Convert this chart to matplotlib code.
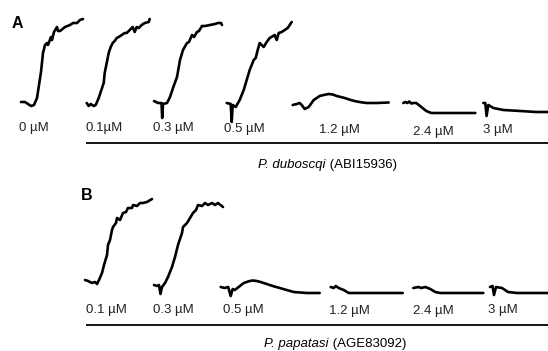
import matplotlib
matplotlib.use('Agg')
import matplotlib.pyplot as plt

plt.rcParams['font.family'] = ['Liberation Sans', 'DejaVu Sans']

# figure size in pixels (dpi 100)
W, H = 548, 351

# ---- data: time (s) and response (dF, a.u.) of each recording ----
# P. duboscqi (ABI15936)
dub_labels = ['0 \u00b5M', '0.1\u00b5M', '0.3 \u00b5M', '0.5 \u00b5M', '1.2 \u00b5M', '2.4 \u00b5M', '3 \u00b5M']

dub_t_0 = [0, 4, 7, 10, 13, 16, 18, 20, 22, 24, 26, 27, 30, 31, 33, 36, 37, 39, 44, 49, 52, 56, 59, 62]
dub_f_0 = [1, 1, -1, -3, -2, 5, 18, 31, 50, 58, 60, 58, 66, 63, 71, 76, 72, 72, 76, 78, 80, 80, 83, 84]

dub_t_01 = [0, 2, 4, 7, 9, 12, 14, 17, 18, 20, 22, 24, 26, 28, 30, 32, 35, 38, 40, 43, 46, 48, 50, 52, 55, 58, 62, 63]
dub_f_01 = [0, -3, -1, -3, -2, 5, 11, 20, 30, 40, 50, 56, 60, 62, 65, 66, 68, 70, 70, 73, 76, 71, 76, 75, 78, 80, 81, 84]

dub_t_03 = [0, 4, 7.5, 8.2, 9, 13, 16, 19, 23, 26, 29, 33, 35, 38, 40, 43, 45, 48, 51, 56, 61, 64, 67, 68]
dub_f_03 = [2, 0, 0, -15, -1, 0, 6, 15, 26, 43, 53, 60, 61, 68, 66, 71, 72, 77, 77, 78, 79, 80, 80, 78]

dub_t_05 = [0, 4, 5, 6, 9, 13, 17, 20, 23, 27, 29, 31, 33, 37, 40, 43, 48, 50, 52, 55, 58, 61, 63, 65]
dub_f_05 = [0, -1, -19, -2, -4, 3, 13, 23, 33, 43, 45, 53, 60, 56, 61, 65, 68, 63, 70, 71, 73, 75, 78, 81]

dub_t_12 = [0, 4, 7, 9, 12, 16, 21, 24, 27, 31, 36, 40, 44, 48, 52, 58, 64, 70, 74, 84, 96]
dub_f_12 = [-2, -1, 0, -2, -6, -4, 3, 5, 7, 8, 9, 8.5, 7, 6, 5, 3, 1.5, 0.5, 0, 0, 0.5]

dub_t_24 = [0, 2, 4, 6, 8, 10, 13, 18, 23, 28, 40, 60, 72]
dub_f_24 = [0, 1, 0, 1.5, -0.5, 0, 0, -4, -8, -10, -10, -10, -10]

dub_t_3 = [0, 2, 3.3, 5, 10, 20, 37, 53, 65]
dub_f_3 = [0, 0, -13, -2, -5, -7, -8, -9, -9]

# P. papatasi (AGE83092)
pap_labels = ['0.1 \u00b5M', '0.3 \u00b5M', '0.5 \u00b5M', '1.2 \u00b5M', '2.4 \u00b5M', '3 \u00b5M']

pap_t_01 = [0, 3, 7, 10, 12, 14, 17, 19, 22, 23, 25, 27, 28, 31, 32, 35, 38, 41, 43, 47, 48, 52, 55, 58, 62, 67]
pap_f_01 = [2, 1, -1, 0, -2, 2, 9, 17, 27, 37, 42, 52, 55, 59, 64, 62, 69, 70, 74, 74, 77, 76, 79, 79, 80, 83]

pap_t_03 = [0, 3, 5, 6.5, 8, 11, 14, 18, 21, 24, 28, 29, 33, 36, 39, 42, 44, 48, 51, 54, 58, 61, 64, 69]
pap_f_03 = [-3, -4, -3, -12, -5, -1, 5, 15, 25, 37, 49, 55, 59, 64, 69, 72, 77, 76, 79, 77, 79, 77, 79, 75]

pap_t_05 = [0, 4, 7.5, 10, 12, 14, 18, 23, 29, 32, 36, 40, 46, 52, 59, 66, 73, 86, 99]
pap_f_05 = [-5, -6, -5, -14, -7, -8, -5, -1, 1, 1.5, 1, 0, -2, -4, -6, -8, -10, -11, -11]

pap_t_12 = [0, 3, 5, 8, 13, 18, 26, 43, 61, 72]
pap_f_12 = [-5, -6, -4, -6, -8, -11, -11, -11, -11, -11]

pap_t_24 = [0, 5, 8, 12, 17, 22, 27, 47, 70]
pap_f_24 = [-6, -5, -6, -5, -7, -10, -11, -11, -11]

pap_t_3 = [0, 2.5, 4, 6, 12, 18, 27, 58]
pap_f_3 = [-5, -4, -13, -5, -6, -10, -11, -11]

dub_name, dub_acc = 'P. duboscqi', ' (ABI15936)'
pap_name, pap_acc = 'P. papatasi', ' (AGE83092)'

# ---- layout (pixels from top-left) ----
YLIM = (-25, 90)
dub_x0 = [21, 86.7, 154, 226.7, 292.7, 403.3, 483.3]
dub_base = 103
dub_lab_x = [19, 86, 153, 224, 319, 413, 483]
dub_lab_y = [131, 131.5, 131.5, 132, 133.5, 134.5, 132.5]

pap_x0 = [85, 154, 220.7, 330.7, 413.3, 490]
pap_base = 282
pap_lab_x = [86, 153, 223, 329, 413, 488]
pap_lab_y = [313, 313, 313.5, 314, 314, 313]

fig = plt.figure(figsize=(W / 100, H / 100), dpi=100)
bg = fig.add_axes([0, 0, 1, 1])
bg.set_xlim(0, W)
bg.set_ylim(H, 0)
bg.axis('off')


def add_trace(x0, base, t, f):
    ax = fig.add_axes([x0 / W, 1 - (base - YLIM[0]) / H,
                       (t[-1] - t[0]) / W, (YLIM[1] - YLIM[0]) / H])
    ax.plot(t, f, color='black', lw=1.9, solid_joinstyle='round',
            solid_capstyle='round', clip_on=False)
    ax.set_xlim(t[0], t[-1])
    ax.set_ylim(*YLIM)
    ax.axis('off')


dub_traces = [(dub_t_0, dub_f_0), (dub_t_01, dub_f_01), (dub_t_03, dub_f_03),
              (dub_t_05, dub_f_05), (dub_t_12, dub_f_12), (dub_t_24, dub_f_24),
              (dub_t_3, dub_f_3)]
pap_traces = [(pap_t_01, pap_f_01), (pap_t_03, pap_f_03), (pap_t_05, pap_f_05),
              (pap_t_12, pap_f_12), (pap_t_24, pap_f_24), (pap_t_3, pap_f_3)]

for x0, (t, f) in zip(dub_x0, dub_traces):
    add_trace(x0, dub_base, t, f)
for x0, (t, f) in zip(pap_x0, pap_traces):
    add_trace(x0, pap_base, t, f)

# concentration labels
for lab, x, y in zip(dub_labels, dub_lab_x, dub_lab_y):
    bg.text(x, y, lab, fontsize=9.5, ha='left', va='baseline', color='#222222')
for lab, x, y in zip(pap_labels, pap_lab_x, pap_lab_y):
    bg.text(x, y, lab, fontsize=9.5, ha='left', va='baseline', color='#222222')

# separator lines and species names
bg.plot([85.5, W], [142.5, 142.5], color='black', lw=1.3, solid_capstyle='butt')
bg.plot([85.5, W], [325, 325], color='black', lw=1.3, solid_capstyle='butt')

bg.text(326, 168, dub_name, fontsize=9.5, style='italic', ha='right', va='baseline')
bg.text(326, 168, dub_acc, fontsize=9.5, ha='left', va='baseline')
bg.text(329, 347.5, pap_name, fontsize=9.5, style='italic', ha='right', va='baseline')
bg.text(329, 347.5, pap_acc, fontsize=9.5, ha='left', va='baseline')

# panel letters
bg.text(12, 28.5, 'A', fontsize=11.5, fontweight='bold', ha='left', va='baseline')
bg.text(81, 200.5, 'B', fontsize=11.5, fontweight='bold', ha='left', va='baseline')

fig.savefig('out.png', dpi=100)
